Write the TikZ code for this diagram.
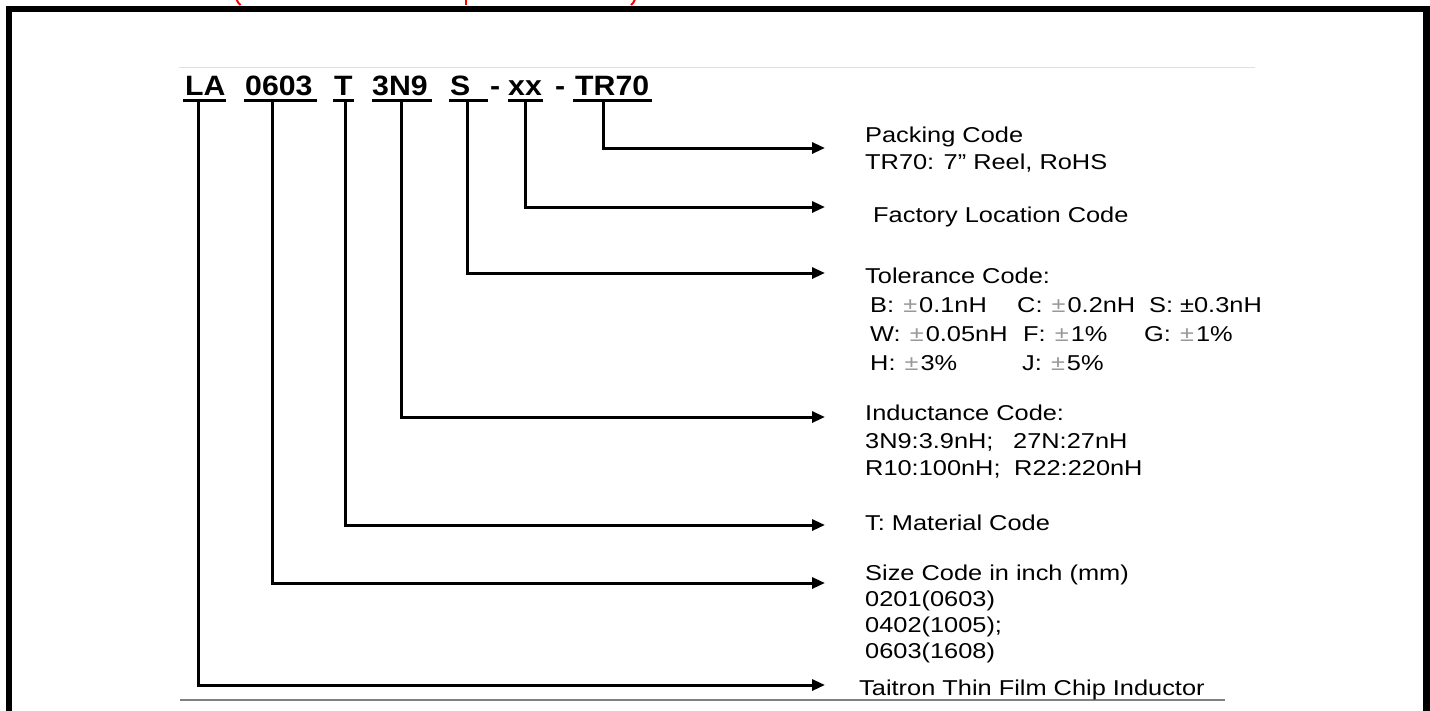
\documentclass[tikz,border=0pt]{standalone}
\usepackage{fontspec}
\setmainfont{Liberation Sans}
\newfontfamily\labfont[FakeStretch=1.18]{Liberation Sans}
\newfontfamily\titfont[FakeStretch=1.08]{Liberation Sans}
\usetikzlibrary{arrows.meta}
\newcommand\gpm{\makebox[18pt][c]{\textcolor{black!40}{±}}}
\tikzset{
  conn/.style={line width=3pt, -{Triangle[length=13pt,width=11pt]}},
  uline/.style={line width=3.5pt},
  lab/.style={anchor=base west, inner sep=0pt, font=\labfont\fontsize{21.5}{26}\selectfont},
  code/.style={anchor=base west, inner sep=0pt, font=\titfont\bfseries\fontsize{28}{32}\selectfont},
  redfrag/.style={draw=red, line width=2pt, line cap=butt},
  frame/.style={line width=6.5pt},
}
\begin{document}
\begin{tikzpicture}[x=1pt,y=-1pt]
\useasboundingbox (0,0) rectangle (1430,710);
% frame and rules
\draw[frame] (9,730) -- (9,9) -- (1426.5,9) -- (1426.5,730);
\draw[black!12, line width=1pt] (179,67) -- (1255,67);
\draw[black!50, line width=1.2pt] (180,700) -- (1225,700);
% red title fragments (cut off by the top edge)
\draw[redfrag] (236.5,-1) .. controls (237.5,2) .. (240.5,5);
\draw[redfrag] (466,-1) -- (466,5);
\draw[redfrag] (635,-1) .. controls (634,2) .. (631,5);
% part number
\node[code] (cLA) at (185,95) {LA};
\node[code] (c0603) at (245,95) {0603};
\node[code] (cT) at (334,95) {T};
\node[code] (c3N9) at (372,95) {3N9};
\node[code] (cS) at (450,95) {S};
\node[code] (d1) at (490,95) {-};
\node[code] (cxx) at (508,95) {xx};
\node[code] (d2) at (555,95) {-};
\node[code] (cTR) at (575,95) {TR70};
\draw[uline] (183,100.5) -- (226,100.5);
\draw[uline] (244,100.5) -- (317,100.5);
\draw[uline] (333,100.5) -- (354,100.5);
\draw[uline] (372,100.5) -- (432,100.5);
\draw[uline] (449,100.5) -- (488,100.5);
\draw[uline] (508,100.5) -- (543,100.5);
\draw[uline] (573,100.5) -- (652,100.5);
% connector start and end points
\coordinate (uLA) at (198,101);
\coordinate (u0603) at (272,101);
\coordinate (uT) at (345,101);
\coordinate (u3N9) at (401,101);
\coordinate (uS) at (467,101);
\coordinate (uxx) at (525,101);
\coordinate (uTR) at (603,101);
\coordinate (eTR) at (825,148);
\coordinate (exx) at (825,207);
\coordinate (eS) at (825,273);
\coordinate (e3N9) at (825,417);
\coordinate (eT) at (825,525);
\coordinate (e0603) at (825,583);
\coordinate (eLA) at (825,685);
\draw[conn] (uTR) |- (eTR);
\draw[conn] (uxx) |- (exx);
\draw[conn] (uS) |- (eS);
\draw[conn] (u3N9) |- (e3N9);
\draw[conn] (uT) |- (eT);
\draw[conn] (u0603) |- (e0603);
\draw[conn] (uLA) |- (eLA);
% labels
\node[lab] (pk1) at (865,142) {Packing Code};
\node[lab] (pk2) at (865,169) {TR70: 7” Reel, RoHS};
\node[lab] (fl) at (873,222) {Factory Location Code};
\node[lab] (tc) at (865,283) {Tolerance Code:};
\node[lab] (tB) at (870,312) {B: \gpm0.1nH};
\node[lab] (tC) at (1017,312) {C: \gpm0.2nH};
\node[lab] (tS) at (1149,312) {S: ±0.3nH};
\node[lab] (tW) at (870,341) {W: \gpm0.05nH};
\node[lab] (tF) at (1023,341) {F: \gpm1\%};
\node[lab] (tG) at (1144,341) {G: \gpm1\%};
\node[lab] (tH) at (870,370) {H: \gpm3\%};
\node[lab] (tJ) at (1022,370) {J: \gpm5\%};
\node[lab] (ic) at (865,420) {Inductance Code:};
\node[lab] (i1) at (865,448) {3N9:3.9nH;};
\node[lab] (i2) at (1013,448) {27N:27nH};
\node[lab] (i3) at (865,475) {R10:100nH;};
\node[lab] (i4) at (1014,475) {R22:220nH};
\node[lab] (mc) at (865,530) {T: Material Code};
\node[lab] (sz1) at (865,580) {Size Code in inch (mm)};
\node[lab] (sz2) at (865,606) {0201(0603)};
\node[lab] (sz3) at (865,632) {0402(1005);};
\node[lab] (sz4) at (865,658) {0603(1608)};
\node[lab] (tt) at (859,695) {Taitron Thin Film Chip Inductor};
\end{tikzpicture}
\end{document}
